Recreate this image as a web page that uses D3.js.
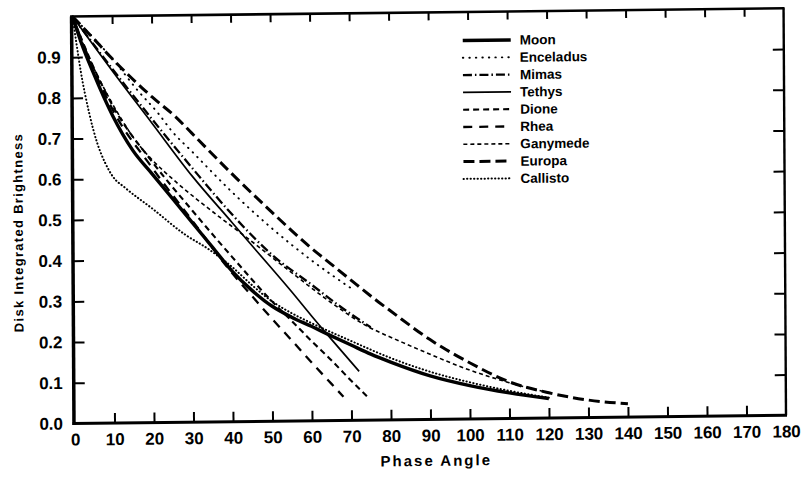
<!DOCTYPE html>
<html>
<head>
<meta charset="utf-8">
<script src="https://cdn.jsdelivr.net/npm/d3@7"></script>
<style>
  html, body { margin: 0; padding: 0; background: #fff; }
  svg { display: block; }
  text { font-family: "Liberation Sans", Arial, sans-serif; font-weight: bold; fill: #000; }
</style>
</head>
<body>
<svg id="chart" width="805" height="479"></svg>
<script>
// Phase curves: [phase angle (deg), disk-integrated brightness normalised to 1 at 0 deg]
const moon      = [[0,1.0],[2,0.94],[5,0.865],[10,0.755],[15,0.67],[20,0.61],[25,0.55],[30,0.49],[35,0.43],[40,0.37],[45,0.322],[50,0.283],[55,0.255],[60,0.232],[65,0.208],[70,0.185],[75,0.162],[80,0.142],[90,0.107],[100,0.082],[110,0.063],[120,0.048]];
const enceladus = [[0,1.0],[10,0.895],[16.5,0.815],[21.5,0.76],[25,0.715],[30,0.665],[40,0.565],[50,0.475],[60,0.395],[70,0.325]];
const mimas     = [[0,1.0],[10,0.87],[20,0.745],[30,0.625],[40,0.51],[50,0.41],[60,0.335],[68,0.275],[75,0.228]];
const tethys    = [[0,1.0],[10,0.865],[20,0.735],[30,0.605],[40,0.49],[47,0.41],[55,0.318],[60,0.258],[65,0.2],[72,0.12]];
const dione     = [[0,1.0],[5,0.88],[10,0.78],[20,0.64],[30,0.52],[40,0.405],[50,0.295],[55,0.246],[60,0.196],[65,0.148],[70,0.097],[74,0.058]];
const rhea      = [[0,1.0],[5,0.875],[10,0.77],[20,0.625],[30,0.495],[40,0.365],[45,0.308],[50,0.252],[55,0.198],[60,0.143],[65,0.09],[68,0.058]];
const ganymede  = [[0,1.0],[4,0.9],[8,0.82],[12,0.75],[16,0.69],[20,0.645],[26,0.59],[36,0.51],[44,0.45],[55,0.365],[65,0.29],[73,0.237],[83,0.19],[90,0.16],[100,0.12],[110,0.088],[120,0.062]];
const europa    = [[0,1.0],[5,0.948],[10,0.895],[20,0.8],[26,0.75],[30,0.71],[40,0.61],[50,0.515],[60,0.425],[65,0.385],[70,0.345],[77,0.29],[80,0.268],[90,0.196],[100,0.138],[110,0.09],[120,0.062],[130,0.043],[140,0.033]];
const callisto  = [[0,1.0],[1,0.93],[2,0.865],[4,0.765],[6,0.69],[8,0.64],[10,0.605],[13,0.578],[20,0.525],[28,0.462],[34,0.425],[40,0.38],[45,0.335],[50,0.295],[55,0.265],[60,0.24],[70,0.195],[80,0.152],[90,0.117],[100,0.09],[110,0.068],[120,0.05]];

const seriesNames = ["Moon", "Enceladus", "Mimas", "Tethys", "Dione", "Rhea", "Ganymede", "Europa", "Callisto"];
const seriesData  = [moon, enceladus, mimas, tethys, dione, rhea, ganymede, europa, callisto];

const xTickValues = d3.range(0, 181, 10);
const yTickValues = [0, 0.1, 0.2, 0.3, 0.4, 0.5, 0.6, 0.7, 0.8, 0.9];

// line style per series (same order as seriesNames)
const lineStyles = [
  { width: 3.4, dash: null,         cap: "butt"  },  // Moon
  { width: 1.9, dash: "0.5,6",      cap: "round" },  // Enceladus
  { width: 2.3, dash: "9,3,1.5,3",  cap: "butt"  },  // Mimas
  { width: 1.7, dash: null,         cap: "butt"  },  // Tethys
  { width: 2.1, dash: "6,4",        cap: "butt"  },  // Dione
  { width: 2.3, dash: "9,7",        cap: "butt"  },  // Rhea
  { width: 1.6, dash: "4,3",        cap: "butt"  },  // Ganymede
  { width: 3.0, dash: "11,5",       cap: "butt"  },  // Europa
  { width: 2.0, dash: "0.3,3.2",    cap: "round" }   // Callisto
];

const svg = d3.select("#chart");
const plotLeft = 75, plotRight = 786, plotTop = 16.5, plotBottom = 423.5;

const x = d3.scaleLinear().domain([0, 180]).range([plotLeft, plotRight]);
const y = d3.scaleLinear().domain([0, 1]).range([plotBottom, plotTop]);

// whole drawing is slightly sheared like the printed figure
const root = svg.append("g")
  .attr("transform", "matrix(1,-0.0115,0.006,1,-2.544,0.84)");

// frame
const frame = root.append("g").attr("stroke", "#000").attr("fill", "none");
frame.append("line").attr("x1", x(0) - 1).attr("x2", x(0) - 1).attr("y1", y(1)).attr("y2", y(0) + 1.5).attr("stroke-width", 3.5);
frame.append("line").attr("x1", x(0) - 2.5).attr("x2", x(180) + 1).attr("y1", y(0)).attr("y2", y(0)).attr("stroke-width", 3);
frame.append("line").attr("x1", x(0) - 2.5).attr("x2", x(180) + 1).attr("y1", y(1)).attr("y2", y(1)).attr("stroke-width", 2.6);
frame.append("line").attr("x1", x(180)).attr("x2", x(180)).attr("y1", y(1)).attr("y2", y(0)).attr("stroke-width", 2.4);

function styleAxis(g) {
  g.select(".domain").remove();
  g.selectAll(".tick line").attr("stroke", "#000").attr("stroke-width", 2);
  g.selectAll(".tick text").attr("font-size", 17).attr("font-family", null);
}

// bottom axis with inward ticks
root.append("g")
  .attr("transform", `translate(0,${y(0)})`)
  .call(d3.axisBottom(x).tickValues(xTickValues).tickSize(-10).tickSizeOuter(0).tickPadding(10).tickFormat(d3.format("d")))
  .call(styleAxis)
  .call(g => g.selectAll(".tick").filter(d => d === 0 || d === 180).select("line").remove());

// top axis ticks
root.append("g")
  .attr("transform", `translate(0,${y(1)})`)
  .call(d3.axisTop(x).tickValues(xTickValues.filter(d => d > 0 && d < 180)).tickSize(-8).tickSizeOuter(0).tickFormat(""))
  .call(styleAxis);

// left axis
root.append("g")
  .attr("transform", `translate(${x(0) - 1},0)`)
  .call(d3.axisLeft(y).tickValues(yTickValues).tickSize(-11).tickSizeOuter(0).tickPadding(11).tickFormat(d3.format(".1f")))
  .call(styleAxis)
  .call(g => g.selectAll(".tick").filter(d => d === 0).select("line").remove());

// right axis ticks
root.append("g")
  .attr("transform", `translate(${x(180)},0)`)
  .call(d3.axisRight(y).tickValues(yTickValues.filter(d => d > 0)).tickSize(-11).tickSizeOuter(0).tickFormat(""))
  .call(styleAxis);

// curves
const line = d3.line()
  .x(d => x(d[0]))
  .y(d => y(d[1]))
  .curve(d3.curveMonotoneX);

root.append("g").selectAll("path")
  .data(seriesData)
  .join("path")
  .attr("d", d => line(d))
  .attr("fill", "none")
  .attr("stroke", "#000")
  .attr("stroke-width", (d, i) => lineStyles[i].width)
  .attr("stroke-dasharray", (d, i) => lineStyles[i].dash)
  .attr("stroke-linecap", (d, i) => lineStyles[i].cap);

// legend
const legend = root.append("g").attr("transform", "translate(465,45)");
const rowH = 17.3;
const rows = legend.selectAll("g")
  .data(seriesNames)
  .join("g")
  .attr("transform", (d, i) => `translate(0,${i * rowH})`);
rows.append("line")
  .attr("x1", 0).attr("x2", 48).attr("y1", 0).attr("y2", 0)
  .attr("stroke", "#000")
  .attr("stroke-width", (d, i) => lineStyles[i].width)
  .attr("stroke-dasharray", (d, i) => lineStyles[i].dash)
  .attr("stroke-linecap", (d, i) => lineStyles[i].cap);
rows.append("text")
  .attr("x", 57).attr("y", 0).attr("dy", "0.35em")
  .attr("font-size", 13.5)
  .text(d => d);

// axis titles
root.append("text")
  .attr("x", 436).attr("y", 470)
  .attr("text-anchor", "middle")
  .attr("font-size", 15)
  .attr("letter-spacing", 2)
  .text("Phase Angle");

root.append("text")
  .attr("transform", "translate(24,232) rotate(-90)")
  .attr("text-anchor", "middle")
  .attr("font-size", 13)
  .attr("letter-spacing", 1.3)
  .text("Disk Integrated Brightness");
</script>
</body>
</html>
